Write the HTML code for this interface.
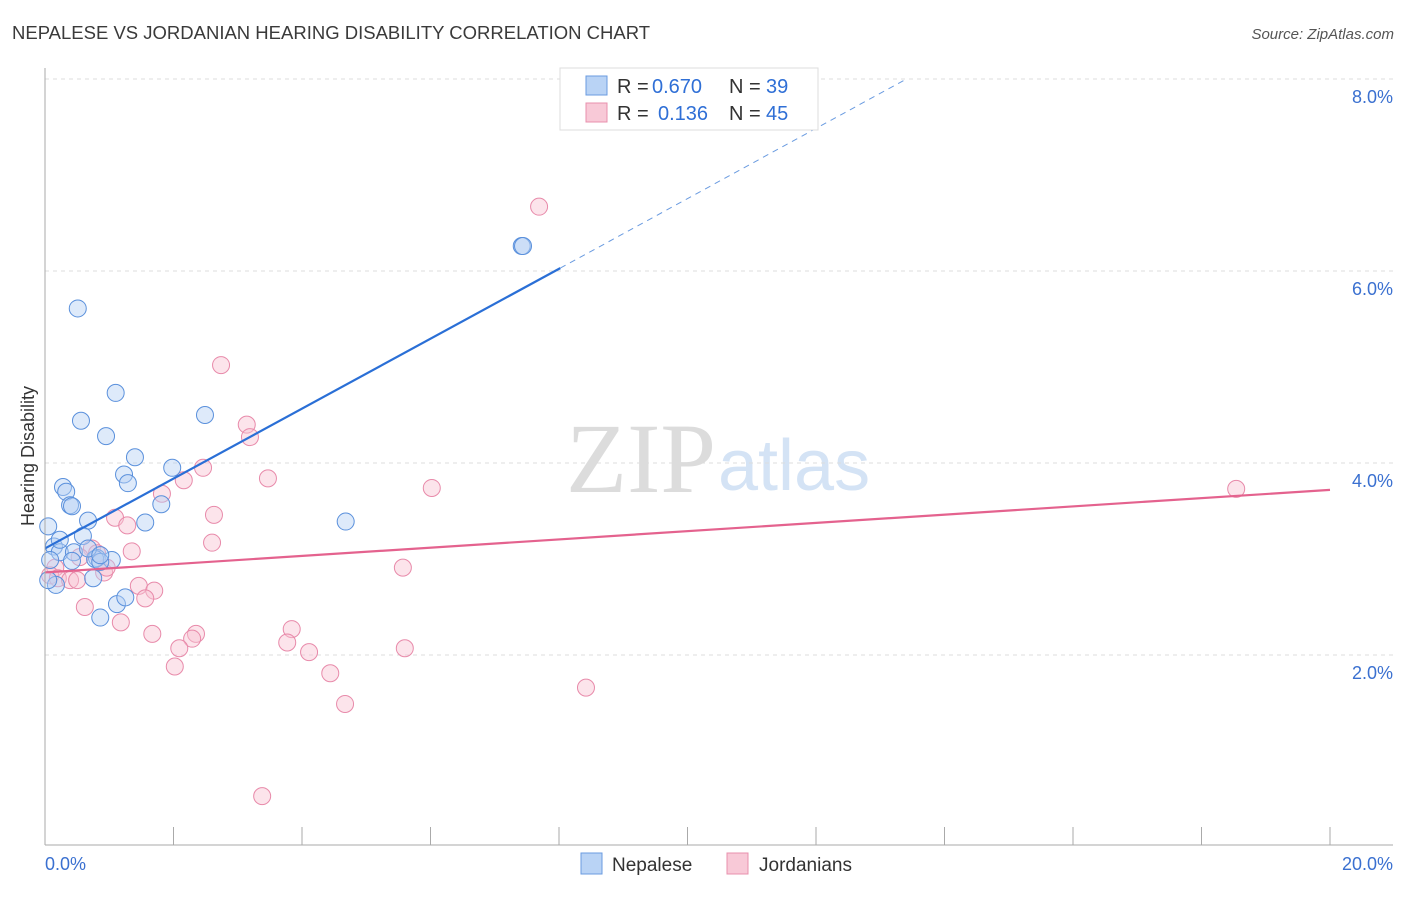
<!DOCTYPE html>
<html><head><meta charset="utf-8"><style>
body{margin:0;background:#fff;font-family:"Liberation Sans",sans-serif}
svg text{font-family:"Liberation Sans",sans-serif}
svg text.serif{font-family:"Liberation Serif",serif}
</style></head><body>
<svg id="c" width="1406" height="892" xmlns="http://www.w3.org/2000/svg">
<text x="12" y="39" font-size="18.5" fill="#3a3a3a">NEPALESE VS JORDANIAN HEARING DISABILITY CORRELATION CHART</text>
<text x="1394" y="39" font-size="15" fill="#555" font-style="italic" text-anchor="end">Source: ZipAtlas.com</text>
<text class="serif" x="716" y="492" font-size="100" fill="#dcdcdc" text-anchor="end">ZIP</text>
<text x="718" y="490" font-size="72" fill="#d4e3f5">atlas</text>
<text x="34" y="456" font-size="18" fill="#333" text-anchor="middle" transform="rotate(-90 34 456)">Hearing Disability</text>
<g id="grid"></g><g id="pts"></g><g id="lines"></g>
<line x1="45" y1="68" x2="45" y2="845" stroke="#aaa"/>
<line x1="45" y1="845" x2="1393" y2="845" stroke="#aaa"/>
<text x="45" y="870" font-size="18" fill="#3a70d0">0.0%</text>
<text x="1393" y="870" font-size="18" fill="#3a70d0" text-anchor="end">20.0%</text>
<g>
<rect x="560" y="68" width="258" height="62" fill="#fff" stroke="#ddd"/>
<rect x="586" y="76" width="21" height="19" fill="#b9d3f5" stroke="#6a9be0"/>
<rect x="586" y="103" width="21" height="19" fill="#f8c9d7" stroke="#e890ad"/>
<text x="617" y="93" font-size="20" fill="#333">R =</text>
<text x="652" y="93" font-size="20" fill="#2f6fd6">0.670</text>
<text x="729" y="93" font-size="20" fill="#333">N =</text>
<text x="766" y="93" font-size="20" fill="#2f6fd6">39</text>
<text x="617" y="120" font-size="20" fill="#333">R =</text>
<text x="658" y="120" font-size="20" fill="#2f6fd6">0.136</text>
<text x="729" y="120" font-size="20" fill="#333">N =</text>
<text x="766" y="120" font-size="20" fill="#2f6fd6">45</text>
</g>
<g>
<rect x="581" y="853" width="21" height="21" fill="#b9d3f5" stroke="#6a9be0"/>
<text x="612" y="871" font-size="19" fill="#333">Nepalese</text>
<rect x="727" y="853" width="21" height="21" fill="#f8c9d7" stroke="#e890ad"/>
<text x="759" y="871" font-size="19" fill="#333">Jordanians</text>
</g>
</svg>
<script>
const yTicks=[2,4,6,8];
const xTicks=[0,2,4,6,8,10,12,14,16,18,20];
const blueX=[0.51,1.10,0.56,2.49,0.95,1.40,1.98,1.23,1.29,0.28,0.33,0.39,0.42,1.81,0.67,1.56,4.68,0.05,0.59,0.14,0.23,0.45,0.81,1.04,0.78,0.86,0.42,0.08,0.75,0.17,1.12,1.25,0.86,7.42,7.44,0.05,0.67,0.23,0.86];
const blueY=[5.61,4.73,4.44,4.50,4.28,4.06,3.95,3.88,3.79,3.75,3.70,3.56,3.55,3.57,3.40,3.38,3.39,3.34,3.24,3.13,3.07,3.07,3.01,2.99,3.00,2.97,2.98,2.99,2.80,2.73,2.53,2.60,2.39,6.26,6.26,2.78,3.11,3.20,3.04];
const pinkX=[7.69,2.74,3.14,3.19,3.47,2.46,2.16,1.82,6.02,18.54,2.63,1.09,1.28,2.60,1.35,0.73,0.81,5.57,0.54,0.16,0.08,0.20,0.39,0.50,0.92,0.96,1.46,1.70,1.56,0.62,1.18,1.67,2.35,2.29,2.09,3.84,3.77,4.11,5.60,2.02,4.44,8.42,4.67,3.38];
const pinkY=[6.67,5.02,4.40,4.27,3.84,3.95,3.82,3.68,3.74,3.73,3.46,3.43,3.35,3.17,3.08,3.11,3.06,2.91,3.02,2.91,2.83,2.80,2.78,2.78,2.86,2.91,2.72,2.67,2.59,2.50,2.34,2.22,2.22,2.17,2.07,2.27,2.13,2.03,2.07,1.88,1.81,1.66,1.49,0.53];
const blueTrend=[[0,3.11],[8.02,6.03],[13.38,7.99]];
const pinkTrend=[[0,2.86],[20,3.72]];
const sx=v=>45+v*64.25, sy=v=>847-v*96;
const NS="http://www.w3.org/2000/svg";
function mk(t,a,p){const e=document.createElementNS(NS,t);for(const k in a)e.setAttribute(k,a[k]);p.appendChild(e);return e;}
const grid=document.getElementById('grid'),pts=document.getElementById('pts'),lines=document.getElementById('lines'),svg=document.getElementById('c');
yTicks.forEach(v=>{
 const l=mk('line',{x1:45,x2:1393,y1:sy(v),y2:sy(v),stroke:'#ddd','stroke-dasharray':'4,4'},grid);
 
 
 const t=mk('text',{x:1393,y:sy(v)+24,'font-size':18,fill:'#3a70d0','text-anchor':'end'},svg);
 t.textContent=v.toFixed(1)+'%';
 
 
});
xTicks.forEach(v=>{
 const l=mk('line',{x1:sx(v),x2:sx(v),y1:827,y2:845,stroke:'#aaa'},grid);
 
 
});
function dots(X,Y,f,s,n){X.forEach((x,i)=>{
 const c=mk('circle',{cx:sx(x),cy:sy(Y[i]),r:8.5,fill:f,'fill-opacity':0.45,stroke:s,'stroke-width':1},pts);
 
 
});}
dots(pinkX,pinkY,'#f8c3d3','#e88aaa','jordanian-point');
dots(blueX,blueY,'#b5d0f3','#5a90dc','nepalese-point');
const b1=mk('line',{x1:sx(blueTrend[0][0]),y1:sy(blueTrend[0][1]),x2:sx(blueTrend[1][0]),y2:sy(blueTrend[1][1]),stroke:'#2a6fd6','stroke-width':2.2},lines);


const b2=mk('line',{x1:sx(blueTrend[1][0]),y1:sy(blueTrend[1][1]),x2:sx(blueTrend[2][0]),y2:sy(blueTrend[2][1]),stroke:'#6a9be0','stroke-width':1,'stroke-dasharray':'6,5'},lines);


const p1=mk('line',{x1:sx(pinkTrend[0][0]),y1:sy(pinkTrend[0][1]),x2:sx(pinkTrend[1][0]),y2:sy(pinkTrend[1][1]),stroke:'#e4628e','stroke-width':2.2},lines);


</script>
</body></html>
